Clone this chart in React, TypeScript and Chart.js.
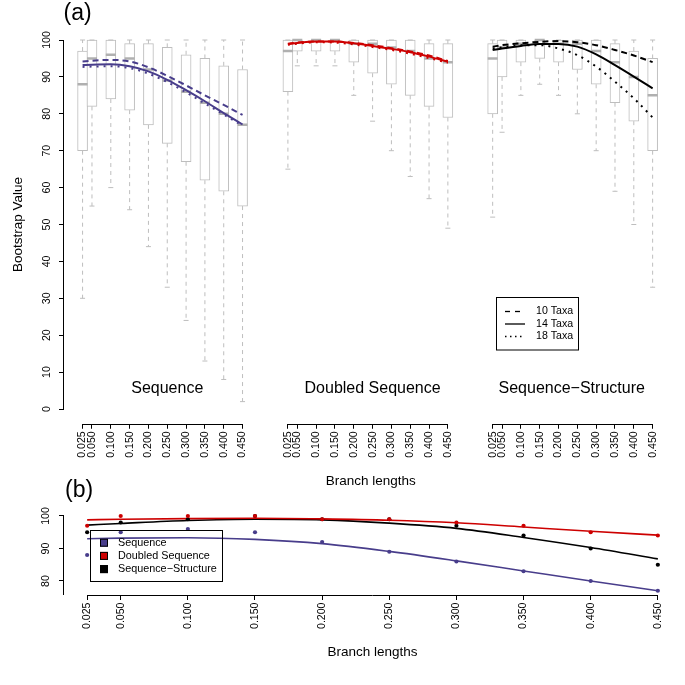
import React, { useEffect, useRef } from 'react';
import { Chart, registerables } from 'chart.js';

Chart.register(...registerables);

const FONT = "'Liberation Sans', Arial, Helvetica, sans-serif";

// ---------- data ----------
const BRANCH = [0.025, 0.05, 0.1, 0.15, 0.2, 0.25, 0.3, 0.35, 0.4, 0.45];
const BRANCH_LABELS = ['0.025', '0.050', '0.100', '0.150', '0.200', '0.250', '0.300', '0.350', '0.400', '0.450'];
const METHODS = ['Sequence', 'Doubled Sequence', 'Sequence\u2212Structure'];
const TAXA = ['10 Taxa', '14 Taxa', '18 Taxa'];
const Y_TICKS_A = [0, 10, 20, 30, 40, 50, 60, 70, 80, 90, 100];
const Y_TICKS_B = [80, 90, 100];

// Box statistics, panel (a)
const SEQ_MIN = [30, 55, 60, 54, 44, 33, 24, 13, 8, 2];
const SEQ_Q1 = [70, 82, 84, 81, 77, 72, 67, 62, 59, 55];
const SEQ_MED = [88, 95, 96, 95, 92, 89, 86, 83, 80, 77];
const SEQ_Q3 = [97, 100, 100, 99, 99, 98, 96, 95, 93, 92];
const SEQ_MAX = [100, 100, 100, 100, 100, 100, 100, 100, 100, 100];

const DBL_MIN = [65, 93, 93, 93, 85, 78, 70, 63, 57, 49];
const DBL_Q1 = [86, 97, 97, 97, 94, 91, 88, 85, 82, 79];
const DBL_MED = [97, 100, 100, 100, 99, 99, 98, 97, 95, 94];
const DBL_Q3 = [100, 100, 100, 100, 100, 100, 100, 100, 99, 99];
const DBL_MAX = [100, 100, 100, 100, 100, 100, 100, 100, 100, 100];

const SS_MIN = [52, 75, 85, 88, 85, 80, 70, 59, 50, 33];
const SS_Q1 = [80, 90, 94, 95, 94, 92, 88, 83, 78, 70];
const SS_MED = [95, 98, 99, 100, 99, 99, 97, 94, 90, 85];
const SS_Q3 = [99, 100, 100, 100, 100, 100, 100, 99, 97, 95];
const SS_MAX = [100, 100, 100, 100, 100, 100, 100, 100, 100, 100];

// Smoothed curves, panel (a): 10 / 14 / 18 taxa
const SEQ_10 = [94.2, 94.4, 94.6, 94.2, 92.6, 90.3, 87.7, 85.0, 82.4, 79.7];
const SEQ_14 = [93.2, 93.3, 93.4, 92.9, 91.5, 89.2, 86.4, 83.4, 80.2, 77.1];
const SEQ_18 = [92.7, 92.8, 92.9, 92.4, 90.9, 88.6, 85.8, 82.8, 79.8, 76.8];

const DBL_10 = [99.0, 99.3, 99.6, 99.6, 99.2, 98.6, 97.8, 96.9, 95.8, 94.3];
const DBL_14 = [98.9, 99.2, 99.6, 99.6, 99.1, 98.4, 97.6, 96.7, 95.5, 94.1];
const DBL_18 = [98.7, 99.0, 99.4, 99.3, 98.8, 98.1, 97.3, 96.3, 95.1, 93.8];

const SS_10 = [98.2, 98.6, 99.1, 99.5, 99.7, 99.4, 98.6, 97.3, 95.8, 94.0];
const SS_14 = [97.3, 97.7, 98.4, 98.9, 98.9, 98.2, 96.1, 93.2, 90.1, 86.9];
const SS_18 = [97.7, 98.0, 98.6, 98.6, 97.7, 95.9, 92.8, 88.7, 84.2, 79.0];

// Panel (b): medians and fitted curves
const B_SEQ_PTS = [88, 95, 96, 95, 92, 89, 86, 83, 80, 77];
const B_DBL_PTS = [97, 100, 100, 100, 99, 99, 98, 97, 95, 94];
const B_SS_PTS = [95, 98, 99, 100, 99, 99, 97, 94, 90, 85];
const B_SEQ_FIT = [93.0, 93.2, 93.3, 92.8, 91.5, 89.1, 86.2, 83.1, 80.0, 77.0];
const B_DBL_FIT = [98.8, 99.0, 99.2, 99.3, 99.1, 98.7, 97.9, 96.6, 95.3, 94.1];
const B_SS_FIT = [97.2, 97.7, 98.6, 99.0, 98.8, 97.8, 96.2, 93.4, 90.3, 86.8];

// ---------- styles / layout ----------
const METHOD_COLORS = ['#483D8B', '#CD0000', '#000000'];
const TAXA_DASH: number[][] = [[6, 4], [], [2, 5]];
const GRAY = '#bebebe';
const MED_GRAY = '#b0b0b0';
const GROUP_OFFSETS = [0, 0.5455, 1.0895];
const GROUP_LABEL_X = [0.25, 0.25, 0.235];
const GROUP_LABEL_Y = 4.3;

const A_H = 497;
const B_TOP = 470;
const B_H = 215;
const X_MIN_A = 0.025 - (82.8 - 64) / 381;
const X_MAX_A = X_MIN_A + 621 / 381;
const X_MIN_B = 0.025 - 23.3 / 1351.5;
const X_MAX_B = X_MIN_B + 621 / 1351.5;

const BOXES = [
  { min: SEQ_MIN, q1: SEQ_Q1, med: SEQ_MED, q3: SEQ_Q3, max: SEQ_MAX },
  { min: DBL_MIN, q1: DBL_Q1, med: DBL_MED, q3: DBL_Q3, max: DBL_MAX },
  { min: SS_MIN, q1: SS_Q1, med: SS_MED, q3: SS_Q3, max: SS_MAX },
];
const CURVES_A = [
  [SEQ_10, SEQ_14, SEQ_18],
  [DBL_10, DBL_14, DBL_18],
  [SS_10, SS_14, SS_18],
];
const B_PTS = [B_SEQ_PTS, B_DBL_PTS, B_SS_PTS];
const B_FIT = [B_SEQ_FIT, B_DBL_FIT, B_SS_FIT];

const alignP = (p: number) => Math.round(p - 0.5) + 0.5;

const tickFont = { family: FONT, size: 10.6 };
const titleFont = { family: FONT, size: 13.5 };

function makeAConfig(): any {
  const xPos: number[] = [];
  const xLabels: string[] = [];
  GROUP_OFFSETS.forEach((off) =>
    BRANCH.forEach((b, i) => {
      xPos.push(off + b);
      xLabels.push(BRANCH_LABELS[i]);
    })
  );

  const datasets: any[] = [];
  CURVES_A.forEach((group, g) =>
    group.forEach((vals, t) =>
      datasets.push({
        type: 'line',
        data: vals.map((v, i) => ({ x: GROUP_OFFSETS[g] + BRANCH[i], y: v })),
        borderColor: METHOD_COLORS[g],
        borderWidth: 2,
        borderDash: TAXA_DASH[t],
        pointRadius: 0,
        cubicInterpolationMode: 'monotone',
        order: 0,
      })
    )
  );

  const meds: any[] = [];
  const caps: any[] = [];
  const bars: any[] = [];
  const whisk: any[] = [];
  BOXES.forEach((b, g) =>
    BRANCH.forEach((br, i) => {
      const x = GROUP_OFFSETS[g] + br;
      meds.push({ x, y: b.med[i] });
      caps.push({ x, y: b.min[i] }, { x, y: b.max[i] });
      bars.push({ x, y: [b.q1[i], b.q3[i]] });
      whisk.push(
        { x, y: b.q3[i] },
        { x, y: b.max[i] },
        { x, y: null },
        { x, y: b.q1[i] },
        { x, y: b.min[i] },
        { x, y: null }
      );
    })
  );

  datasets.push({
    type: 'line',
    data: meds,
    showLine: false,
    pointStyle: 'line',
    pointRadius: 5,
    pointBorderWidth: 2.5,
    pointBorderColor: MED_GRAY,
    pointBackgroundColor: MED_GRAY,
    order: 1,
  });
  datasets.push({
    type: 'line',
    data: caps,
    showLine: false,
    pointStyle: 'line',
    pointRadius: 2.5,
    pointBorderWidth: 1,
    pointBorderColor: GRAY,
    pointBackgroundColor: GRAY,
    order: 2,
  });
  datasets.push({
    type: 'bar',
    data: bars,
    backgroundColor: '#ffffff',
    borderColor: GRAY,
    borderWidth: 1,
    borderSkipped: false,
    barThickness: 10,
    grouped: false,
    order: 3,
  });
  datasets.push({
    type: 'line',
    data: whisk,
    spanGaps: false,
    borderColor: GRAY,
    borderWidth: 1,
    borderDash: [4, 4],
    pointRadius: 0,
    tension: 0,
    order: 4,
  });

  const plugin = {
    id: 'panelAExtras',
    afterDraw(chart: any) {
      const { ctx, chartArea: ca } = chart;
      const xS = chart.scales.x;
      const yS = chart.scales.y;
      ctx.save();
      ctx.strokeStyle = '#000';
      ctx.lineWidth = 1;
      ctx.setLineDash([]);
      // y axis line
      const ax = Math.round(ca.left) - 0.5;
      ctx.beginPath();
      ctx.moveTo(ax, alignP(yS.getPixelForValue(100)) - 0.5);
      ctx.lineTo(ax, alignP(yS.getPixelForValue(0)) + 0.5);
      ctx.stroke();
      // x axis segments
      const ay = Math.round(ca.bottom) + 0.5;
      GROUP_OFFSETS.forEach((off) => {
        ctx.beginPath();
        ctx.moveTo(alignP(xS.getPixelForValue(off + BRANCH[0])) - 0.5, ay);
        ctx.lineTo(alignP(xS.getPixelForValue(off + BRANCH[BRANCH.length - 1])) + 0.5, ay);
        ctx.stroke();
      });
      // group labels
      ctx.fillStyle = '#000';
      ctx.font = `16px ${FONT}`;
      ctx.textAlign = 'center';
      ctx.textBaseline = 'alphabetic';
      METHODS.forEach((m, g) => {
        ctx.fillText(m, xS.getPixelForValue(GROUP_OFFSETS[g] + GROUP_LABEL_X[g]), yS.getPixelForValue(GROUP_LABEL_Y));
      });
      // panel letter
      ctx.font = `23px ${FONT}`;
      ctx.textAlign = 'left';
      ctx.fillText('(a)', 63.5, 20);
      // legend
      const lx = 496.5, ly = 297.5, lw = 82, lh = 52.5;
      ctx.strokeRect(lx, ly, lw, lh);
      ctx.font = `10.6px ${FONT}`;
      ctx.textBaseline = 'middle';
      TAXA.forEach((t, k) => {
        const ry = 311.5 + k * 12.5;
        ctx.beginPath();
        ctx.lineWidth = 1.3;
        ctx.setLineDash(k === 0 ? [5, 5] : k === 1 ? [] : [1.5, 3.5]);
        ctx.moveTo(505, ry);
        ctx.lineTo(525, ry);
        ctx.stroke();
        ctx.setLineDash([]);
        ctx.fillText(t, 536, ry);
      });
      ctx.restore();
    },
  };

  return {
    type: 'line',
    data: { datasets },
    plugins: [plugin],
    options: {
      animation: false,
      responsive: false,
      devicePixelRatio: 1,
      events: [],
      layout: { padding: { top: 25.24, left: 0, right: 0, bottom: 0 } },
      plugins: { legend: { display: false }, tooltip: { enabled: false } },
      scales: {
        x: {
          type: 'linear',
          min: X_MIN_A,
          max: X_MAX_A,
          offset: false,
          border: { display: false },
          grid: { display: true, drawOnChartArea: false, drawTicks: true, tickLength: 5, color: '#000', offset: false },
          ticks: {
            autoSkip: false,
            minRotation: 90,
            maxRotation: 90,
            padding: 2.5,
            color: '#000',
            font: tickFont,
            callback: (_v: any, i: number) => xLabels[i],
          },
          afterBuildTicks: (s: any) => {
            s.ticks = xPos.map((v) => ({ value: v }));
          },
          afterFit: (s: any) => {
            s.height = A_H - 423.76;
          },
          title: { display: true, text: 'Branch lengths', color: '#000', font: titleFont, padding: { top: 0, bottom: 7.9 } },
        },
        y: {
          type: 'linear',
          min: -4,
          max: 104,
          border: { display: false },
          grid: { display: true, drawOnChartArea: false, drawTicks: true, tickLength: 5, color: '#000' },
          ticks: {
            minRotation: 90,
            maxRotation: 90,
            crossAlign: 'center',
            padding: 3.5,
            color: '#000',
            font: tickFont,
            callback: (v: any) => String(v),
          },
          afterBuildTicks: (s: any) => {
            s.ticks = Y_TICKS_A.map((v) => ({ value: v }));
          },
          afterFit: (s: any) => {
            s.width = 64;
          },
          title: { display: true, text: 'Bootstrap Value', color: '#000', font: titleFont, padding: { top: 9.9, bottom: 0 } },
        },
      },
    },
  };
}

function makeBConfig(): any {
  const datasets: any[] = [];
  B_PTS.forEach((pts, g) =>
    datasets.push({
      type: 'line',
      data: pts.map((v, i) => ({ x: BRANCH[i], y: v })),
      showLine: false,
      pointRadius: 2.1,
      pointBorderWidth: 0,
      pointBackgroundColor: METHOD_COLORS[g],
      order: 0,
    })
  );
  B_FIT.forEach((vals, g) =>
    datasets.push({
      type: 'line',
      data: vals.map((v, i) => ({ x: BRANCH[i], y: v })),
      borderColor: METHOD_COLORS[g],
      borderWidth: 1.6,
      pointRadius: 0,
      cubicInterpolationMode: 'monotone',
      order: 1,
    })
  );

  const plugin = {
    id: 'panelBExtras',
    afterDraw(chart: any) {
      const { ctx, chartArea: ca } = chart;
      const xS = chart.scales.x;
      const yS = chart.scales.y;
      ctx.save();
      ctx.strokeStyle = '#000';
      ctx.lineWidth = 1;
      ctx.setLineDash([]);
      const ax = Math.round(ca.left) - 0.5;
      ctx.beginPath();
      ctx.moveTo(ax, alignP(yS.getPixelForValue(100)) - 0.5);
      ctx.lineTo(ax, Math.round(ca.bottom));
      ctx.stroke();
      const ay = Math.round(ca.bottom) + 0.5;
      ctx.beginPath();
      ctx.moveTo(alignP(xS.getPixelForValue(BRANCH[0])) - 0.5, ay);
      ctx.lineTo(alignP(xS.getPixelForValue(BRANCH[BRANCH.length - 1])) + 0.5, ay);
      ctx.stroke();
      ctx.fillStyle = '#000';
      ctx.font = `23px ${FONT}`;
      ctx.textAlign = 'left';
      ctx.textBaseline = 'alphabetic';
      ctx.fillText('(b)', 65, 497 - B_TOP);
      // legend
      const lx = 90.5, ly = 530.5 - B_TOP, lw = 132, lh = 51;
      ctx.strokeRect(lx, ly, lw, lh);
      ctx.font = `10.8px ${FONT}`;
      ctx.textBaseline = 'middle';
      METHODS.forEach((m, k) => {
        const ry = 542.7 - B_TOP + k * 13.2;
        ctx.fillStyle = METHOD_COLORS[k];
        ctx.fillRect(100, ry - 4, 8, 8);
        ctx.strokeRect(100.5, ry - 3.5, 7, 7);
        ctx.fillStyle = '#000';
        ctx.fillText(m, 118, ry);
      });
      ctx.restore();
    },
  };

  return {
    type: 'line',
    data: { datasets },
    plugins: [plugin],
    options: {
      animation: false,
      responsive: false,
      devicePixelRatio: 1,
      events: [],
      layout: { padding: { top: 513 - B_TOP, left: 0, right: 0, bottom: 0 } },
      plugins: { legend: { display: false }, tooltip: { enabled: false } },
      scales: {
        x: {
          type: 'linear',
          min: X_MIN_B,
          max: X_MAX_B,
          offset: false,
          border: { display: false },
          grid: { display: true, drawOnChartArea: false, drawTicks: true, tickLength: 5, color: '#000', offset: false },
          ticks: {
            autoSkip: false,
            minRotation: 90,
            maxRotation: 90,
            padding: 2.5,
            color: '#000',
            font: tickFont,
            callback: (_v: any, i: number) => BRANCH_LABELS[i],
          },
          afterBuildTicks: (s: any) => {
            s.ticks = BRANCH.map((v) => ({ value: v }));
          },
          afterFit: (s: any) => {
            s.height = B_TOP + B_H - 595;
          },
          title: { display: true, text: 'Branch lengths', color: '#000', font: titleFont, padding: { top: 0, bottom: 24.9 } },
        },
        y: {
          type: 'linear',
          min: 75.69,
          max: 100.92,
          border: { display: false },
          grid: { display: true, drawOnChartArea: false, drawTicks: true, tickLength: 5, color: '#000' },
          ticks: {
            minRotation: 90,
            maxRotation: 90,
            crossAlign: 'center',
            padding: 4.5,
            color: '#000',
            font: tickFont,
            callback: (v: any) => String(v),
          },
          afterBuildTicks: (s: any) => {
            s.ticks = Y_TICKS_B.map((v) => ({ value: v }));
          },
          afterFit: (s: any) => {
            s.width = 64;
          },
        },
      },
    },
  };
}

function ChartCanvas({ top, height, make }: { top: number; height: number; make: () => any }) {
  const ref = useRef<HTMLCanvasElement>(null);
  useEffect(() => {
    const chart = new Chart(ref.current as HTMLCanvasElement, make());
    return () => chart.destroy();
  }, []);
  return (
    <canvas
      ref={ref}
      width={685}
      height={height}
      style={{ position: 'absolute', left: 0, top, width: 685, height }}
    />
  );
}

export default function App() {
  return (
    <div style={{ position: 'absolute', left: 0, top: 0, width: 685, height: 685, background: '#fff', overflow: 'hidden' }}>
      <ChartCanvas top={0} height={A_H} make={makeAConfig} />
      <ChartCanvas top={B_TOP} height={B_H} make={makeBConfig} />
    </div>
  );
}
